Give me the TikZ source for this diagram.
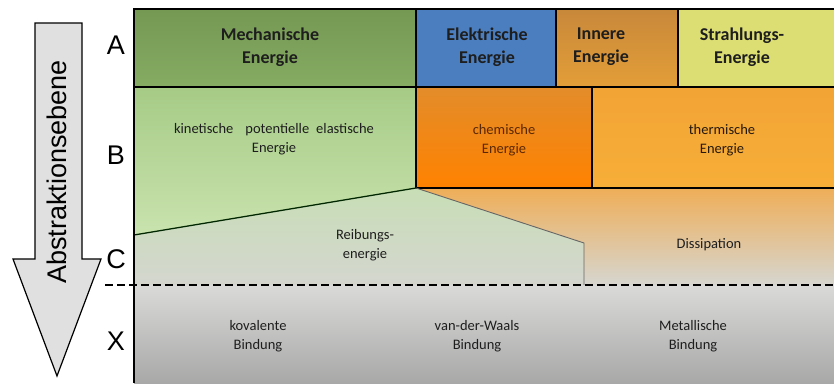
\documentclass[tikz,border=0pt]{standalone}
\usepackage{fontspec}
\setmainfont{Carlito}
\newfontfamily\arialfont{Liberation Sans}
\definecolor{mechA}{HTML}{7FA65A}
\definecolor{elekA}{HTML}{4A7EBF}
\definecolor{innTop}{HTML}{C8883A}
\definecolor{innBot}{HTML}{E39E38}
\definecolor{strA}{HTML}{DCDD73}
\definecolor{grnTop}{HTML}{A6CB86}
\definecolor{grnBot}{HTML}{C9E3AE}
\definecolor{chemTop}{HTML}{E38C2A}
\definecolor{chemBot}{HTML}{FF8200}
\definecolor{thermTop}{HTML}{F2A435}
\definecolor{thermBot}{HTML}{F7AE38}
\definecolor{reibTop}{HTML}{C8DEB6}
\definecolor{reibBot}{HTML}{D4D6CF}
\definecolor{dissTop}{HTML}{EFAE58}
\definecolor{dissMid}{HTML}{E0CDAE}
\definecolor{dissBot}{HTML}{D6D6D0}
\definecolor{bondTop}{HTML}{DADAD8}
\definecolor{bondBot}{HTML}{A8A8A8}
\definecolor{arrowfill}{HTML}{E0E0E0}
\definecolor{txt}{HTML}{1E1E1E}
\definecolor{chemtxt}{HTML}{5A2800}
\tikzset{
  head/.style={font=\fontsize{18}{23}\selectfont\bfseries, text=txt, align=center, inner sep=0pt},
  body/.style={font=\fontsize{14.5}{18.5}\selectfont, text=txt, align=center, inner sep=0pt},
  lvl/.style={font=\arialfont\fontsize{27}{30}\selectfont, text=black, inner sep=0pt},
  border/.style={line width=2pt, draw=black},
  sep/.style={line width=1.5pt, draw=black},
}
\begin{document}
\begin{tikzpicture}[x=1pt,y=1pt]
\useasboundingbox (0,0) rectangle (834,-383);
% background regions
\shade[top color=mechA!92!black, bottom color=mechA!95!white] (134,-9) rectangle (416,-87);
\fill[elekA] (416,-9) rectangle (556,-87);
\shade[top color=innTop, bottom color=innBot] (556,-9) rectangle (678,-87);
\fill[strA] (678,-9) rectangle (834,-87);
\shade[top color=grnTop, bottom color=grnBot] (134,-87) -- (416,-87) -- (416,-188) -- (134,-235) -- cycle;
\shade[top color=chemTop, bottom color=chemBot] (416,-87) rectangle (592,-188);
\shade[top color=thermTop, bottom color=thermBot] (592,-87) rectangle (834,-188);
\shade[top color=reibTop, bottom color=reibBot] (134,-235) -- (416,-188) -- (584,-243) -- (584,-285) -- (134,-285) -- cycle;
\shade[top color=dissTop, middle color=dissMid, bottom color=dissBot] (416,-188) -- (834,-188) -- (834,-285) -- (584,-285) -- (584,-243) -- cycle;
\shade[top color=bondTop, bottom color=bondBot] (134,-285) rectangle (834,-383);
% separators
\draw[sep] (134,-87) -- (834,-87);
\draw[sep] (416,-188) -- (834,-188);
\draw[sep] (416,-9) -- (416,-188);
\draw[sep] (556,-9) -- (556,-87);
\draw[sep] (678,-9) -- (678,-87);
\draw[sep] (592,-87) -- (592,-188);
\draw[line width=1.3pt, draw=black!75!green!60!black] (416,-188) -- (134,-235);
\draw[line width=0.9pt, draw=black!60] (416,-188) -- (584,-243) -- (584,-285);
\draw[line width=2pt, dash pattern=on 8pt off 4pt] (105,-285) -- (834,-285);
\draw[border] (834,-9) -- (134,-9) -- (134,-383);
% arrow
\draw[line width=1.2pt, fill=arrowfill] (35,-23) -- (82,-23) -- (82,-259) -- (101,-259) -- (57,-376) -- (13,-259) -- (35,-259) -- cycle;
\node[lvl, rotate=90] (abs) at (57,-172) {Abstraktionsebene};
% level labels
\node[lvl] (lA) at (116,-45) {A};
\node[lvl] (lB) at (116,-155) {B};
\node[lvl] (lC) at (116,-259) {C};
\node[lvl] (lX) at (116,-341) {X};
% texts
\node[head] (mech) at (270,-47) {Mechanische\\Energie};
\node[head] (elek) at (487,-47) {Elektrische\\Energie};
\node[head] (inn) at (601,-47) {Innere\\Energie};
\node[head] (str) at (742,-47) {Strahlungs-\\Energie};
\node[body] (kin) at (274,-139) {kinetische\hspace{12pt}potentielle\hspace{7pt}elastische\\Energie};
\node[body, text=chemtxt] (chem) at (504,-140) {chemische\\Energie};
\node[body, text=black!80!brown] (therm) at (722,-140) {thermische\\Energie};
\node[body] (reib) at (365,-245) {Reibungs-\\energie};
\node[body] (diss) at (709,-245) {Dissipation};
\node[body] (kov) at (258,-336) {kovalente\\Bindung};
\node[body] (vdw) at (477,-336) {van-der-Waals\\Bindung};
\node[body] (met) at (693,-336) {Metallische\\Bindung};
\end{tikzpicture}
\end{document}
